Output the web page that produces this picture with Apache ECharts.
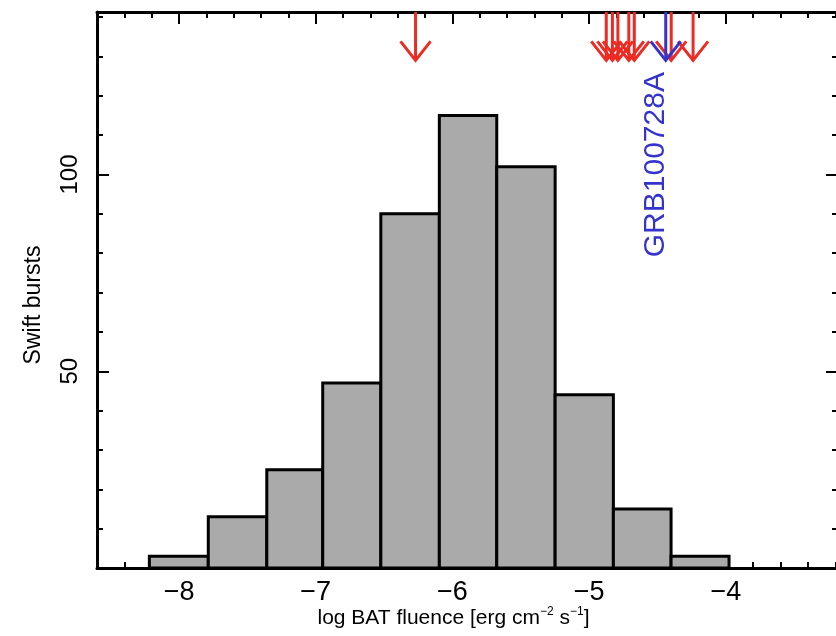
<!DOCTYPE html>
<html>
<head>
<meta charset="utf-8">
<script src="https://cdn.jsdelivr.net/npm/echarts@6/dist/echarts.min.js"></script>
<style>
  html, body { margin: 0; padding: 0; background: #ffffff; }
  #chart { width: 836px; height: 636px; }
</style>
</head>
<body>
<div id="chart"></div>
<script>
// Distribution of Swift BAT fluences, with upper-limit arrows for selected bursts.
const binEdges = [-8.217, -7.786, -7.358, -6.949, -6.524, -6.096, -5.676, -5.249, -4.823, -4.401, -3.977];
const burstCounts = [3, 13, 25, 47, 90, 115, 102, 44, 15, 3];
const redArrowFluences = [-6.27, -4.875, -4.83, -4.79, -4.71, -4.67, -4.40, -4.24];
const highlightFluence = -4.44;
const highlightName = 'GRB100728A';
const xTickLabels = [-8, -7, -6, -5, -4];
const yTickLabels = [50, 100];
const arrowTipCount = 129;
const xRange = [-8.6, -3.18];
const yRange = [0, 141.3];

const FONT = '"Liberation Sans", Arial, Helvetica, sans-serif';
const RED = '#ec2b23';
const BLUE = '#3434cc';

const chart = echarts.init(document.getElementById('chart'), null, { renderer: 'canvas' });

const isTick = (v, list) => list.some(t => Math.abs(v - t) < 1e-6);

function xAxisDef(position, major, withLine, withLabels) {
  const ax = {
    type: 'value', position: position, min: xRange[0], max: xRange[1],
    axisLine: { show: withLine, onZero: false, lineStyle: { color: '#000', width: 3 } },
    axisTick: { show: true, inside: true, length: major ? 12 : 6, lineStyle: { color: '#000', width: 2 } },
    axisLabel: { show: withLabels },
    splitLine: { show: false }
  };
  if (major) { ax.splitNumber = 5; } else { ax.interval = 0.2; }
  if (withLabels) {
    ax.axisLabel = {
      show: true, margin: 11, color: '#000', fontFamily: FONT, fontSize: 27,
      formatter: v => isTick(v, xTickLabels) ? '\u2212' + Math.abs(Math.round(v)) : ''
    };
    ax.name = '{t|log BAT fluence [erg cm}{s|\u22122}{t| s}{s|\u22121}{t|]}';
    ax.nameLocation = 'middle';
    ax.nameMoveOverlap = false;
    ax.nameGap = 38;
    ax.nameTextStyle = {
      padding: [0, 28, 0, 0],
      rich: {
        t: { fontFamily: FONT, fontSize: 21, color: '#000', lineHeight: 24 },
        s: { fontFamily: FONT, fontSize: 12, color: '#000', lineHeight: 24, padding: [0, 0, 12, 0] }
      }
    };
  }
  return ax;
}

function yAxisDef(position, major, withLine, withLabels) {
  const ax = {
    type: 'value', position: position, min: yRange[0], max: yRange[1],
    interval: major ? 50 : 10,
    axisLine: { show: withLine, onZero: false, lineStyle: { color: '#000', width: 3 } },
    axisTick: { show: true, inside: true, length: major ? 12 : 6, lineStyle: { color: '#000', width: 2 } },
    axisLabel: { show: false },
    splitLine: { show: false }
  };
  if (withLabels) {
    ax.axisLabel = {
      show: true, rotate: 90, margin: 15, color: '#000', fontFamily: FONT, fontSize: 24,
      formatter: v => isTick(v, yTickLabels) ? String(v) : ''
    };
    ax.name = 'Swift bursts';
    ax.nameLocation = 'middle';
    ax.nameMoveOverlap = false;
    ax.nameGap = 52;
    ax.nameTextStyle = { fontFamily: FONT, fontSize: 23, color: '#000', padding: [0, 30, 0, 0] };
  }
  return ax;
}

function arrowItem(api, color) {
  const x = api.value(0);
  const top = api.coord([x, yRange[1]]);
  const tip = api.coord([x, arrowTipCount]);
  return [
    { type: 'line', shape: { x1: top[0], y1: top[1], x2: tip[0], y2: tip[1] },
      style: { stroke: color, lineWidth: 3 } },
    { type: 'polyline',
      shape: { points: [[tip[0] - 15, tip[1] - 19], [tip[0], tip[1]], [tip[0] + 15, tip[1] - 19]] },
      style: { stroke: color, lineWidth: 3, fill: null } }
  ];
}

const option = {
  backgroundColor: '#ffffff',
  animation: false,
  grid: { left: 97, top: 12, width: 741, height: 556, containLabel: false, outerBoundsMode: 'none' },
  xAxis: [
    xAxisDef('bottom', false, true, true),
    xAxisDef('bottom', true, false, false),
    xAxisDef('top', false, true, false),
    xAxisDef('top', true, false, false)
  ],
  yAxis: [
    yAxisDef('left', false, true, true),
    yAxisDef('left', true, false, false),
    yAxisDef('right', false, true, false),
    yAxisDef('right', true, false, false)
  ],
  series: [
    {
      // histogram bins
      type: 'custom', xAxisIndex: 0, yAxisIndex: 0, clip: false,
      data: burstCounts.map((c, i) => [binEdges[i], binEdges[i + 1], c]),
      encode: { x: [0, 1], y: 2 },
      renderItem: (params, api) => {
        const p0 = api.coord([api.value(0), api.value(2)]);
        const p1 = api.coord([api.value(1), 0]);
        return {
          type: 'rect',
          shape: { x: p0[0], y: p0[1], width: p1[0] - p0[0], height: p1[1] - p0[1] },
          style: { fill: '#aaaaaa', stroke: '#000', lineWidth: 3 }
        };
      }
    },
    {
      // upper-limit arrows
      type: 'custom', xAxisIndex: 0, yAxisIndex: 0, clip: false,
      data: redArrowFluences.map(v => [v]),
      encode: { x: 0 },
      renderItem: (params, api) => ({ type: 'group', children: arrowItem(api, RED) })
    },
    {
      // highlighted burst with its name
      type: 'custom', xAxisIndex: 0, yAxisIndex: 0, clip: false,
      data: [[highlightFluence, highlightName]],
      encode: { x: 0 },
      renderItem: (params, api) => {
        const children = arrowItem(api, BLUE);
        const anchor = api.coord([api.value(0), 102.5]);
        children.push({
          type: 'text', x: anchor[0] - 10, y: anchor[1], rotation: Math.PI / 2,
          style: {
            text: highlightName, fill: BLUE, fontFamily: FONT, fontSize: 30,
            align: 'center', verticalAlign: 'middle'
          }
        });
        return { type: 'group', children: children };
      }
    }
  ]
};

chart.setOption(option);
</script>
</body>
</html>
